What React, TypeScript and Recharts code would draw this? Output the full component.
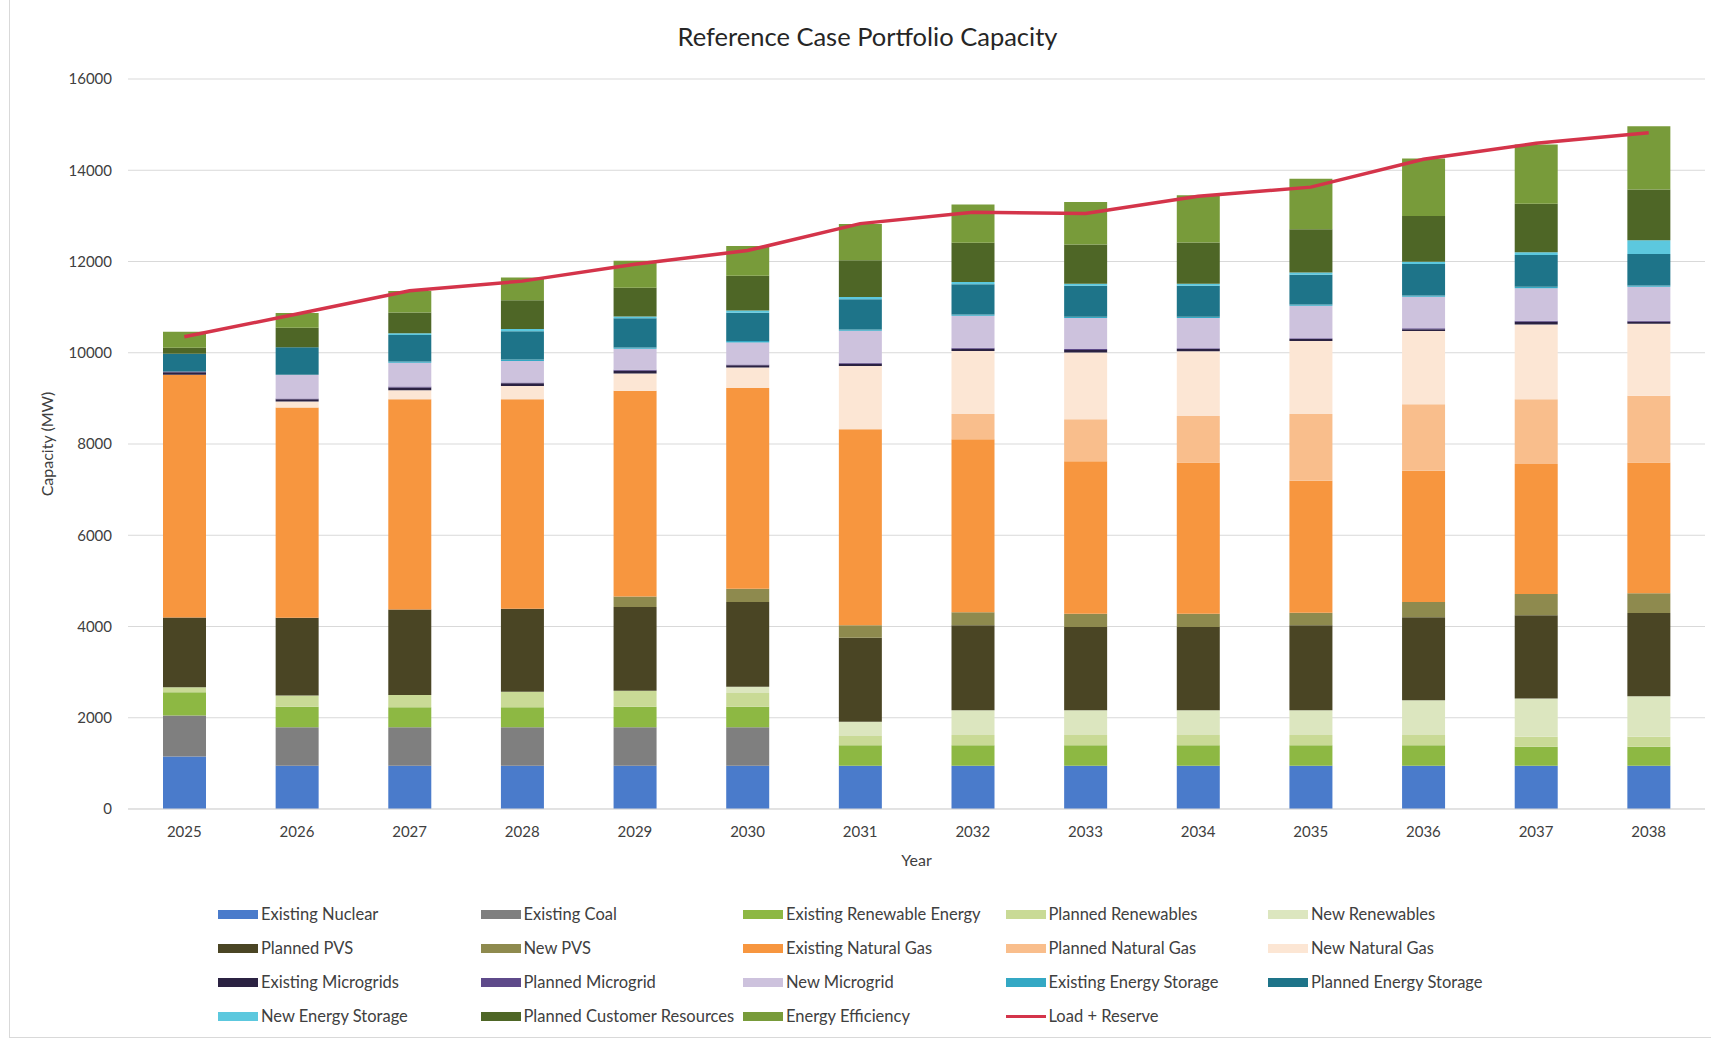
import { Bar, CartesianGrid, ComposedChart, Line, XAxis, YAxis } from "recharts";

const years = ["2025", "2026", "2027", "2028", "2029", "2030", "2031", "2032", "2033", "2034", "2035", "2036", "2037", "2038"];

const existingNuclear = [1150, 950, 950, 950, 950, 950, 950, 950, 950, 950, 950, 950, 950, 950];
const existingCoal = [900, 840, 840, 840, 840, 840, 0, 0, 0, 0, 0, 0, 0, 0];
const existingRenewable = [510, 450, 440, 440, 450, 450, 450, 450, 450, 450, 450, 450, 415, 415];
const plannedRenewables = [110, 250, 270, 340, 350, 300, 200, 220, 220, 220, 220, 220, 220, 220];
const newRenewables = [0, 0, 0, 0, 0, 140, 310, 545, 545, 545, 545, 765, 835, 885];
const plannedPVS = [1530, 1700, 1870, 1820, 1835, 1855, 1845, 1860, 1825, 1825, 1860, 1820, 1825, 1825];
const newPVS = [0, 0, 0, 0, 230, 290, 270, 290, 290, 290, 275, 330, 470, 435];
const existingNaturalGas = [5320, 4610, 4610, 4590, 4510, 4400, 4300, 3790, 3340, 3315, 2895, 2880, 2845, 2865];
const plannedNaturalGas = [0, 0, 0, 0, 0, 0, 0, 550, 925, 1020, 1460, 1455, 1420, 1460];
const newNaturalGas = [0, 130, 200, 290, 380, 450, 1385, 1385, 1460, 1420, 1600, 1605, 1640, 1580];
const existingMicrogrids = [50, 50, 60, 60, 60, 50, 50, 50, 55, 45, 45, 40, 60, 45];
const plannedMicrogrid = [20, 20, 20, 20, 20, 20, 20, 20, 20, 20, 20, 20, 20, 20];
const newMicrogrid = [0, 520, 520, 470, 460, 480, 700, 700, 680, 660, 710, 690, 715, 745];
const existingStorage = [0, 0, 30, 30, 30, 30, 30, 30, 30, 30, 30, 30, 30, 30];
const plannedStorage = [390, 600, 580, 620, 640, 620, 660, 660, 680, 680, 650, 690, 700, 690];
const newStorage = [0, 0, 40, 50, 40, 50, 50, 50, 45, 45, 50, 50, 60, 300];
const customerResources = [130, 430, 450, 630, 630, 760, 810, 860, 860, 900, 945, 1000, 1060, 1115];
const energyEfficiency = [350, 320, 475, 500, 590, 655, 790, 840, 930, 1035, 1110, 1265, 1300, 1385];
const loadReserve = [10350, 10850, 11360, 11570, 11940, 12240, 12830, 13080, 13050, 13430, 13630, 14240, 14590, 14820];

const yTicks = [0, 2000, 4000, 6000, 8000, 10000, 12000, 14000, 16000];

// stacking order, bottom to top
const series = [
  { key: "nuc", name: "Existing Nuclear", color: "#4A7BCB", values: existingNuclear },
  { key: "coal", name: "Existing Coal", color: "#7F7F7F", values: existingCoal },
  { key: "exRen", name: "Existing Renewable Energy", color: "#8DB843", values: existingRenewable },
  { key: "plRen", name: "Planned Renewables", color: "#C9DA96", values: plannedRenewables },
  { key: "newRen", name: "New Renewables", color: "#DCE6BF", values: newRenewables },
  { key: "plPvs", name: "Planned PVS", color: "#4A4524", values: plannedPVS },
  { key: "newPvs", name: "New PVS", color: "#8E8A4E", values: newPVS },
  { key: "exNg", name: "Existing Natural Gas", color: "#F7963F", values: existingNaturalGas },
  { key: "plNg", name: "Planned Natural Gas", color: "#F9BE8C", values: plannedNaturalGas },
  { key: "newNg", name: "New Natural Gas", color: "#FCE6D4", values: newNaturalGas },
  { key: "exMg", name: "Existing Microgrids", color: "#2B2242", values: existingMicrogrids },
  { key: "plMg", name: "Planned Microgrid", color: "#5E4A8A", values: plannedMicrogrid },
  { key: "newMg", name: "New Microgrid", color: "#CDC2DD", values: newMicrogrid },
  { key: "exEs", name: "Existing Energy Storage", color: "#34A8C4", values: existingStorage },
  { key: "plEs", name: "Planned Energy Storage", color: "#1E7489", values: plannedStorage },
  { key: "newEs", name: "New Energy Storage", color: "#5CC8DE", values: newStorage },
  { key: "pcr", name: "Planned Customer Resources", color: "#4E6626", values: customerResources },
  { key: "ee", name: "Energy Efficiency", color: "#789B3A", values: energyEfficiency }
];

const lineColor = "#D4344A";

const data = years.map((year, i) => {
  const row: Record<string, string | number> = { year, load: loadReserve[i] };
  series.forEach((s) => {
    row[s.key] = s.values[i];
  });
  return row;
});

const legendItems = [
  ...series.map((s) => ({ name: s.name, color: s.color, line: false })),
  { name: "Load + Reserve", color: lineColor, line: true }
];

const font = "Lato, 'Open Sans', sans-serif";

export default function App() {
  return (
    <div style={{ position: "fixed", left: 0, top: 0, width: 1711, height: 1040, background: "#fff", fontFamily: font }}>
      <div
        style={{
          position: "absolute",
          left: 9,
          top: 0,
          width: 1702,
          height: 1037,
          borderLeft: "1px solid #D9D9D9",
          borderBottom: "1px solid #D9D9D9"
        }}
      />
      <div
        style={{
          position: "absolute",
          left: 0,
          width: 1735,
          top: 21,
          textAlign: "center",
          fontSize: 25.5,
          color: "#262626"
        }}
      >
        Reference Case Portfolio Capacity
      </div>
      <div style={{ position: "absolute", left: 0, top: 0 }}>
        <ComposedChart width={1711} height={1040} data={data} margin={{ top: 79, right: 6, left: 0, bottom: 0 }}>
          <CartesianGrid vertical={false} stroke="#D9D9D9" />
          <XAxis
            dataKey="year"
            height={231}
            tickLine={false}
            axisLine={{ stroke: "#D9D9D9" }}
            tickMargin={11}
            tick={{ fill: "#404040", fontSize: 15, fontFamily: font }}
            label={{ value: "Year", position: "insideTop", offset: 46, style: { fill: "#404040", fontSize: 16, fontFamily: font } }}
          />
          <YAxis
            width={128}
            domain={[0, 16000]}
            ticks={yTicks}
            interval={0}
            axisLine={false}
            tickLine={false}
            tickMargin={10}
            tick={{ fill: "#404040", fontSize: 15, fontFamily: font }}
            label={{
              value: "Capacity (MW)",
              angle: -90,
              position: "insideLeft",
              offset: 47,
              style: { fill: "#404040", fontSize: 16, fontFamily: font, textAnchor: "middle" }
            }}
          />
          {series.map((s) => (
            <Bar key={s.key} dataKey={s.key} name={s.name} stackId="cap" fill={s.color} barSize={43} isAnimationActive={false} />
          ))}
          <Line
            type="linear"
            dataKey="load"
            name="Load + Reserve"
            stroke={lineColor}
            strokeWidth={3.5}
            dot={false}
            activeDot={false}
            isAnimationActive={false}
          />
        </ComposedChart>
      </div>
      {legendItems.map((item, i) => {
        const col = i % 5;
        const row = Math.floor(i / 5);
        return (
          <div
            key={item.name}
            style={{
              position: "absolute",
              left: 218 + col * 262.5,
              top: 904 + row * 34,
              height: 20,
              display: "flex",
              alignItems: "center",
              fontSize: 16.5,
              color: "#404040",
              whiteSpace: "nowrap"
            }}
          >
            <span
              style={{
                display: "inline-block",
                width: 40,
                height: item.line ? 3 : 9,
                background: item.color,
                marginRight: 3
              }}
            />
            {item.name}
          </div>
        );
      })}
    </div>
  );
}
